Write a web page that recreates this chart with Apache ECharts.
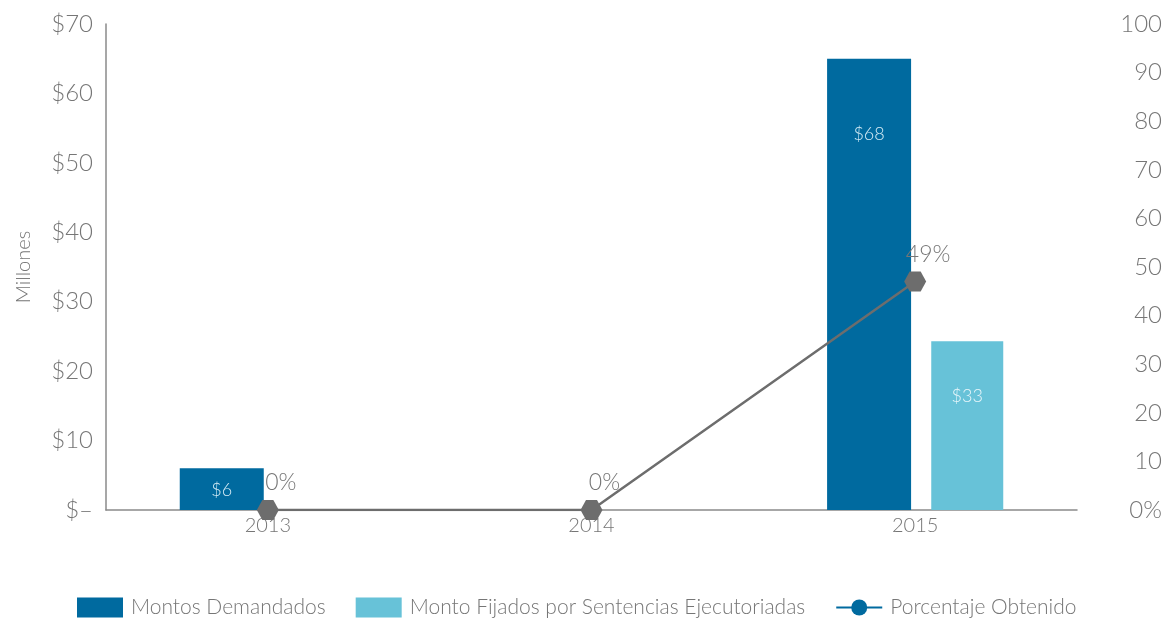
<!DOCTYPE html>
<html><head><meta charset="utf-8">
<script src="https://cdn.jsdelivr.net/npm/echarts@6/dist/echarts.min.js"></script>
<style>html,body{margin:0;padding:0;background:#fff}#c{width:1171px;height:626px}</style>
</head><body><div id="c"></div>
<script>
const categories = ['2013', '2014', '2015'];
const montosDemandados = [6, null, 65];
const montosDemandadosLabels = ['$6', '', '$68'];
const montoFijados = [null, null, 24.3];
const montoFijadosLabels = ['', '', '$33'];
const porcentaje = [0, 0, 47];
const porcentajeLabels = ['0%', '0%', '49%'];
const leftTicks = ['$–', '$10', '$20', '$30', '$40', '$50', '$60', '$70'];

const FONT = 'Lato';
const GRAY = '#767676';
const hex = 'path://M0,10 L5.5,0 L16.5,0 L22,10 L16.5,20 L5.5,20 Z';

const chart = echarts.init(document.getElementById('c'));
chart.setOption({
  animation: false,
  textStyle: { fontFamily: FONT, fontWeight: 300 },
  grid: { left: 106, right: 94, top: 24, bottom: 116 },
  legend: {
    left: 72, bottom: 3,
    itemWidth: 46, itemHeight: 20, itemGap: 30,
    textStyle: { fontFamily: FONT, fontWeight: 300, fontSize: 21, color: GRAY, padding: [0, 0, 0, 3] },
    data: [
      { name: 'Montos Demandados', icon: 'rect' },
      { name: 'Monto Fijados por Sentencias Ejecutoriadas', icon: 'rect' },
      { name: 'Porcentaje Obtenido' }
    ]
  },
  xAxis: {
    type: 'category', data: categories,
    axisLine: { lineStyle: { color: '#8a8a8a', width: 1.5 } },
    axisTick: { show: false },
    axisLabel: { color: GRAY, fontSize: 20, fontFamily: FONT, fontWeight: 300, margin: 6 }
  },
  yAxis: [
    {
      type: 'value', min: 0, max: 70, interval: 10,
      name: 'Millones', nameLocation: 'middle', nameGap: 72, nameRotate: 90,
      nameTextStyle: { color: GRAY, fontSize: 20, fontFamily: FONT, fontWeight: 300 },
      axisLine: { show: true, lineStyle: { color: '#8a8a8a', width: 1.5 } },
      axisTick: { show: false },
      splitLine: { show: false },
      axisLabel: { color: GRAY, fontSize: 24, fontFamily: FONT, fontWeight: 300, margin: 13,
        formatter: (v) => leftTicks[Math.round(v / 10)] }
    },
    {
      type: 'value', min: 0, max: 100, interval: 10, position: 'right',
      axisLine: { show: false }, axisTick: { show: false }, splitLine: { show: false },
      axisLabel: { color: GRAY, fontSize: 24, fontFamily: FONT, fontWeight: 300, margin: 85, align: 'right',
        formatter: (v) => v === 0 ? '0%' : String(v) }
    }
  ],
  series: [
    {
      name: 'Montos Demandados', type: 'bar', barWidth: 84, barGap: '24%',
      itemStyle: { color: '#006a9f' },
      data: montosDemandados.map((v, i) => ({
        value: v,
        label: { show: v != null, position: 'insideTop', distance: v > 20 ? 66 : 13,
          formatter: montosDemandadosLabels[i], color: '#d6edf6', fontSize: 18, fontFamily: FONT, fontWeight: 300 }
      }))
    },
    {
      name: 'Monto Fijados por Sentencias Ejecutoriadas', type: 'bar', barWidth: 72,
      itemStyle: { color: '#67c2d8' },
      data: montoFijados.map((v, i) => ({
        value: v,
        label: { show: v != null, position: 'insideTop', distance: 46,
          formatter: montoFijadosLabels[i], color: '#eaf7fb', fontSize: 18, fontFamily: FONT, fontWeight: 300 }
      }))
    },
    {
      // legend-only entry (no data): gives the legend its blue line-and-circle key
      name: 'Porcentaje Obtenido', type: 'line', yAxisIndex: 1,
      symbol: 'circle', itemStyle: { color: '#006a9f' },
      lineStyle: { color: '#006a9f', width: 3 },
      data: []
    },
    {
      name: 'Porcentaje Obtenido', type: 'line', yAxisIndex: 1,
      symbol: hex, symbolSize: [22, 20],
      itemStyle: { color: '#6d6d6d' },
      lineStyle: { color: '#6d6d6d', width: 2.5 },
      z: 5,
      data: porcentaje.map((v, i) => ({
        value: v,
        label: { show: true, position: 'top', offset: [13, -1], formatter: porcentajeLabels[i],
          color: GRAY, fontSize: 23, fontFamily: FONT, fontWeight: 300 }
      }))
    }
  ]
});
</script></body></html>
